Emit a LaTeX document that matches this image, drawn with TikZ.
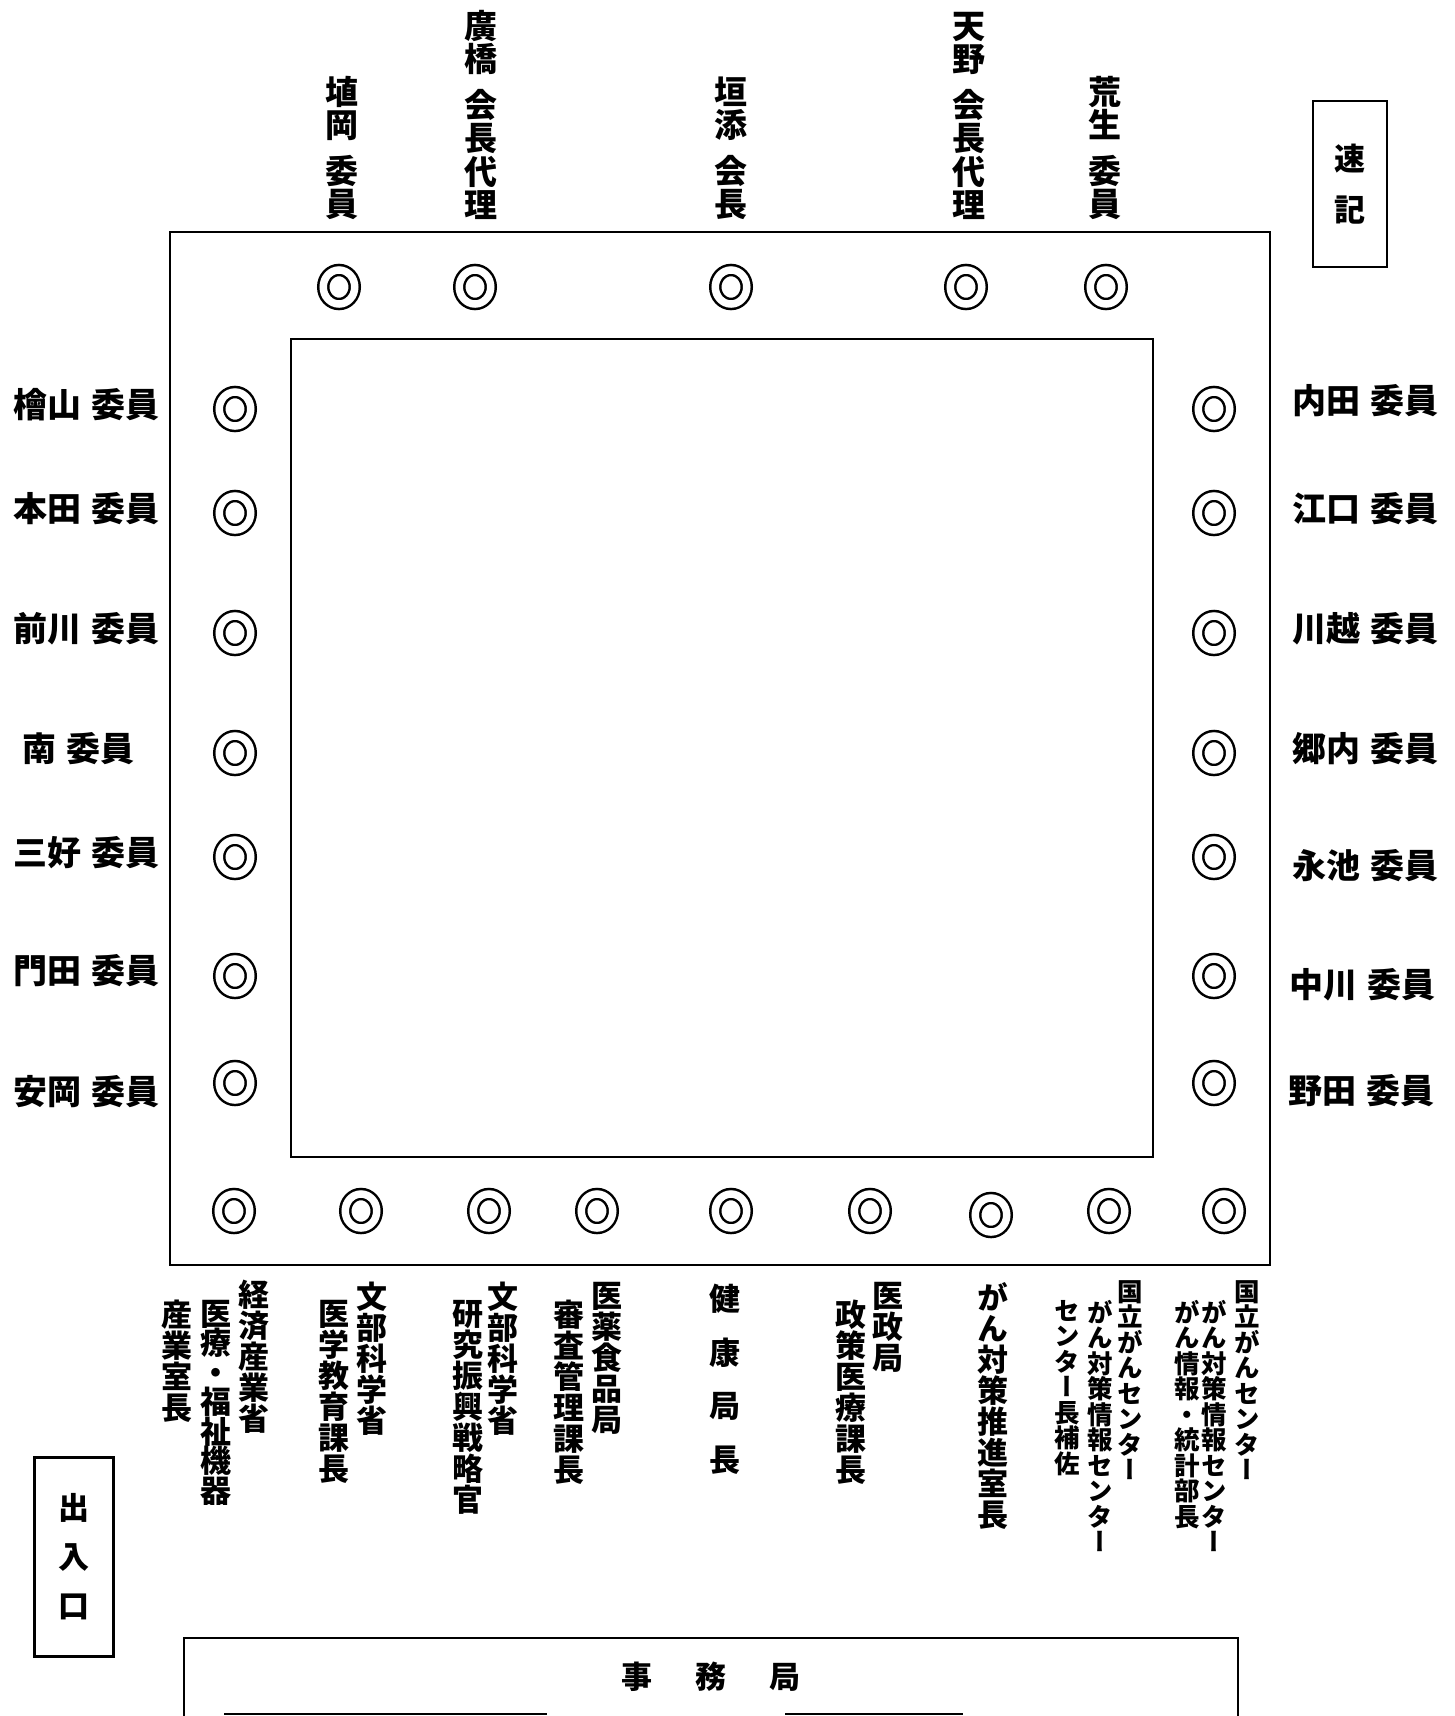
\documentclass[tikz,border=0pt]{standalone}
\usepackage{fontspec}
\setmainfont{Noto Sans CJK JP}
\newfontfamily\tatefont[RawFeature=+vert]{Noto Sans CJK JP}
\usetikzlibrary{shapes.geometric}

% vertical writing: one character per line, * gives a short gap
\makeatletter
\def\tate@star{*}
\newcommand\tate[2][31pt]{\vbox{\tatefont\baselineskip=#1\relax
  \lineskiplimit=-\maxdimen\lineskip=0pt
  \@tfor\tate@c:=#2\do{\ifx\tate@c\tate@star\vskip12pt\else
    \hbox to1em{\hss\tate@c\hss}\fi}}}
\makeatother

\tikzset{
  seat/.style={ellipse, draw, double, line width=2.5pt, double distance=7.5pt,
    minimum width=31.5pt, minimum height=34pt, inner sep=0pt},
  frame/.style={line width=2.8pt},
  namelbl/.style={anchor=west, inner sep=0pt, font=\fontsize{34}{34}\selectfont\bfseries},
  toplbl/.style={anchor=south, inner sep=0pt, font=\fontsize{33}{33}\selectfont\bfseries},
  botlbl/.style={anchor=north, inner sep=0pt, font=\fontsize{31}{31}\selectfont\bfseries},
  smalllbl/.style={anchor=north, inner sep=0pt, font=\fontsize{25.5}{25.5}\selectfont\bfseries},
  sidebox/.style={draw, line width=2.6pt, inner sep=0pt, font=\fontsize{31}{31}\selectfont\bfseries},
}

\begin{document}
\begin{tikzpicture}[x=1pt, y=-1pt]
\useasboundingbox (0,0) rectangle (1455,1716);

% Tables
\draw[frame] (170,232) rectangle (1270,1265);
\draw[frame] (291,339) rectangle (1153,1157);

% Seats
\foreach \x [count=\i] in {339,475,731,966,1106}
  \node[seat] (t\i) at (\x,287) {};
\foreach \y [count=\i] in {409,513,633,753,857,976,1083} {
  \node[seat] (l\i) at (235,\y) {};
  \node[seat] (r\i) at (1214,\y) {};
}
\foreach \x/\y [count=\i] in {234/1211,361/1211,489/1211,597/1211,731/1211,870/1211,991/1215,1109/1211,1224/1211}
  \node[seat] (b\i) at (\x,\y) {};

% Chair and vice chairs
\node[toplbl] (tn1) at (342,220) {\tate[33.5pt]{埴岡*委員}};
\node[toplbl] (tn2) at (481,220) {\tate[33.5pt]{廣橋*会長代理}};
\node[toplbl] (tn3) at (731,220) {\tate[33.5pt]{垣添*会長}};
\node[toplbl] (tn4) at (969,220) {\tate[33.5pt]{天野*会長代理}};
\node[toplbl] (tn5) at (1105,220) {\tate[33.5pt]{荒生*委員}};

% Members, left
\node[namelbl] (ln1) at (13,405) {檜山\hspace{0.3em}委員};
\node[namelbl] (ln2) at (13,509) {本田\hspace{0.3em}委員};
\node[namelbl] (ln3) at (13,629) {前川\hspace{0.3em}委員};
\node[namelbl] (ln4) at (22,749) {南\hspace{0.3em}委員};
\node[namelbl] (ln5) at (13,853) {三好\hspace{0.3em}委員};
\node[namelbl] (ln6) at (13,971) {門田\hspace{0.3em}委員};
\node[namelbl] (ln7) at (13,1092) {安岡\hspace{0.3em}委員};

% Members, right
\node[namelbl] (rn1) at (1292,401) {内田\hspace{0.3em}委員};
\node[namelbl] (rn2) at (1292,509) {江口\hspace{0.3em}委員};
\node[namelbl] (rn3) at (1292,629) {川越\hspace{0.3em}委員};
\node[namelbl] (rn4) at (1292,749) {郷内\hspace{0.3em}委員};
\node[namelbl] (rn5) at (1292,866) {永池\hspace{0.3em}委員};
\node[namelbl] (rn6) at (1289,985) {中川\hspace{0.3em}委員};
\node[namelbl] (rn7) at (1288,1091) {野田\hspace{0.3em}委員};

% Ministries
\node[botlbl] (bn1a) at (254,1280) {\tate{経済産業省}};
\node[botlbl] (bn1b) at (216,1300) {\tate[29.5pt]{医療・福祉機器}};
\node[botlbl] (bn1c) at (177,1300) {\tate{産業室長}};
\node[botlbl] (bn2a) at (372,1282) {\tate{文部科学省}};
\node[botlbl] (bn2b) at (334,1300) {\tate{医学教育課長}};
\node[botlbl] (bn3a) at (503,1282) {\tate{文部科学省}};
\node[botlbl] (bn3b) at (468,1300) {\tate{研究振興戦略官}};
\node[botlbl] (bn4a) at (607,1282) {\tate{医薬食品局}};
\node[botlbl] (bn4b) at (569,1300) {\tate{審査管理課長}};
\node[botlbl] (bn5) at (725,1284) {\tate[53.6pt]{健康局長}};
\node[botlbl] (bn6a) at (888,1282) {\tate{医政局}};
\node[botlbl] (bn6b) at (851,1300) {\tate{政策医療課長}};
\node[botlbl] (bn7) at (993,1282) {\tate{がん対策推進室長}};
\node[smalllbl] (bn8a) at (1130,1280) {\tate[25.5pt]{国立がんセンター}};
\node[smalllbl] (bn8b) at (1100,1300) {\tate[25.5pt]{がん対策情報センター}};
\node[smalllbl] (bn8c) at (1067,1300) {\tate[25.5pt]{センター長補佐}};
\node[smalllbl] (bn9a) at (1247,1280) {\tate[25.5pt]{国立がんセンター}};
\node[smalllbl] (bn9b) at (1214,1300) {\tate[25.5pt]{がん対策情報センター}};
\node[smalllbl] (bn9c) at (1187,1300) {\tate[25.5pt]{がん情報・統計部長}};

% Stenographer, entrance
\node[sidebox, minimum width=74pt, minimum height=166pt] (sokki) at (1350,184) {\tate[51pt]{速記}};
\node[sidebox, minimum width=79pt, minimum height=199pt] (deiri) at (74,1557) {\tate[49pt]{出入口}};

% Secretariat
\draw[frame] (184,1716) -- (184,1638) -- (1238,1638) -- (1238,1716);
\node[font=\fontsize{31}{31}\selectfont\bfseries] (jimu) at (711,1677) {事\hspace{43pt}務\hspace{43pt}局};
\draw[line width=1.6pt] (224,1714) -- (547,1714);
\draw[line width=1.6pt] (785,1714) -- (963,1714);
\end{tikzpicture}
\end{document}
